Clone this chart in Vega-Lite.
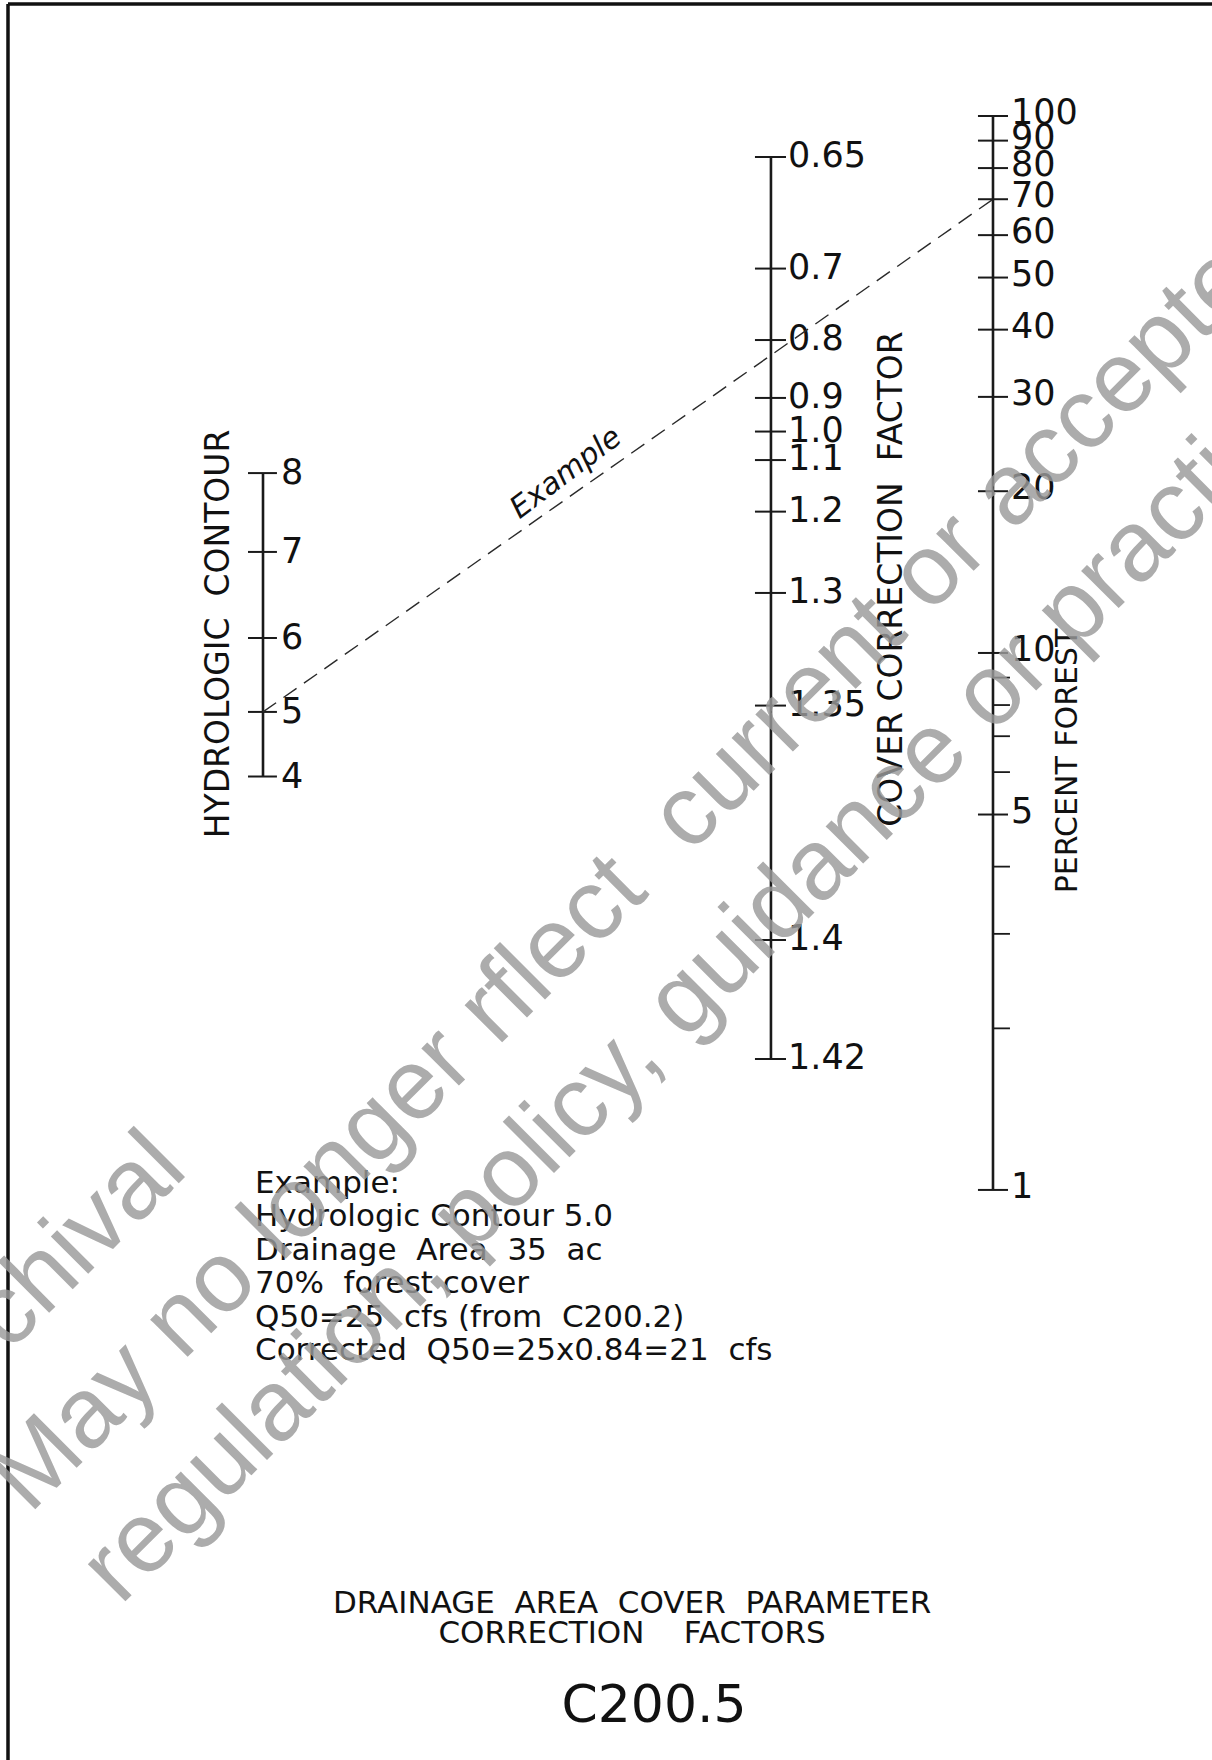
{
  "$schema": "https://vega.github.io/schema/vega-lite/v6.json",
  "width": 1212,
  "height": 1760,
  "autosize": {"type": "none"},
  "padding": 0,
  "background": "white",
  "config": {"view": {"stroke": null}, "text": {"font": "DejaVu Sans", "color": "#111111"}},
  "datasets": {
    "grads": [
      {"scale": "hydro", "value": 8, "label": "8", "pos": 26.88, "kind": "major"},
      {"scale": "hydro", "value": 7, "label": "7", "pos": 31.36, "kind": "major"},
      {"scale": "hydro", "value": 6, "label": "6", "pos": 36.25, "kind": "major"},
      {"scale": "hydro", "value": 5, "label": "5", "pos": 40.45, "kind": "major"},
      {"scale": "hydro", "value": 4, "label": "4", "pos": 44.12, "kind": "major"},
      {"scale": "cover", "value": 0.65, "label": "0.65", "pos": 8.92, "kind": "major"},
      {"scale": "cover", "value": 0.7, "label": "0.7", "pos": 15.26, "kind": "major"},
      {"scale": "cover", "value": 0.8, "label": "0.8", "pos": 19.32, "kind": "major"},
      {"scale": "cover", "value": 0.9, "label": "0.9", "pos": 22.61, "kind": "major"},
      {"scale": "cover", "value": 1.0, "label": "1.0", "pos": 24.52, "kind": "major"},
      {"scale": "cover", "value": 1.1, "label": "1.1", "pos": 26.14, "kind": "major"},
      {"scale": "cover", "value": 1.2, "label": "1.2", "pos": 29.07, "kind": "major"},
      {"scale": "cover", "value": 1.3, "label": "1.3", "pos": 33.69, "kind": "major"},
      {"scale": "cover", "value": 1.35, "label": "1.35", "pos": 40.09, "kind": "major"},
      {"scale": "cover", "value": 1.4, "label": "1.4", "pos": 53.41, "kind": "major"},
      {"scale": "cover", "value": 1.42, "label": "1.42", "pos": 60.17, "kind": "major"},
      {"scale": "percent", "value": 100, "label": "100", "pos": 6.59, "kind": "major"},
      {"scale": "percent", "value": 90, "label": "90", "pos": 7.99, "kind": "major"},
      {"scale": "percent", "value": 80, "label": "80", "pos": 9.55, "kind": "major"},
      {"scale": "percent", "value": 70, "label": "70", "pos": 11.32, "kind": "major"},
      {"scale": "percent", "value": 60, "label": "60", "pos": 13.36, "kind": "major"},
      {"scale": "percent", "value": 50, "label": "50", "pos": 15.77, "kind": "major"},
      {"scale": "percent", "value": 40, "label": "40", "pos": 18.73, "kind": "major"},
      {"scale": "percent", "value": 30, "label": "30", "pos": 22.55, "kind": "major"},
      {"scale": "percent", "value": 20, "label": "20", "pos": 27.91, "kind": "major"},
      {"scale": "percent", "value": 10, "label": "10", "pos": 37.10, "kind": "major"},
      {"scale": "percent", "value": 9, "label": "", "pos": 38.50, "kind": "minor"},
      {"scale": "percent", "value": 8, "label": "", "pos": 40.06, "kind": "minor"},
      {"scale": "percent", "value": 7, "label": "", "pos": 41.83, "kind": "minor"},
      {"scale": "percent", "value": 6, "label": "", "pos": 43.87, "kind": "minor"},
      {"scale": "percent", "value": 5, "label": "5", "pos": 46.28, "kind": "major"},
      {"scale": "percent", "value": 4, "label": "", "pos": 49.24, "kind": "minor"},
      {"scale": "percent", "value": 3, "label": "", "pos": 53.06, "kind": "minor"},
      {"scale": "percent", "value": 2, "label": "", "pos": 58.43, "kind": "minor"},
      {"scale": "percent", "value": 1, "label": "1", "pos": 67.61, "kind": "major"}
    ]
  },
  "layer": [
    {
      "data": {"values": [{}]},
      "layer": [
        {
          "mark": {"type": "rule", "strokeWidth": 3.5, "color": "#111111"},
          "encoding": {
            "x": {"datum": 0.66, "type": "quantitative", "scale": {"domain": [0, 100], "nice": false, "zero": false}, "axis": null},
            "y": {"datum": 0.23, "type": "quantitative", "scale": {"domain": [0, 100], "nice": false, "zero": false, "reverse": true}, "axis": null},
            "y2": {"datum": 100}
          }
        },
        {
          "mark": {"type": "rule", "strokeWidth": 3.5, "color": "#111111"},
          "encoding": {
            "x": {"datum": 0.66, "type": "quantitative", "scale": {"domain": [0, 100], "nice": false, "zero": false}, "axis": null},
            "x2": {"datum": 100},
            "y": {"datum": 0.23, "type": "quantitative", "scale": {"domain": [0, 100], "nice": false, "zero": false, "reverse": true}, "axis": null}
          }
        }
      ]
    },
    {
      "data": {"name": "grads"},
      "transform": [{"filter": "datum.scale === 'hydro'"}],
      "layer": [
        {
          "transform": [{"aggregate": [{"op": "min", "field": "pos", "as": "top"}, {"op": "max", "field": "pos", "as": "bottom"}]}],
          "mark": {"type": "rule", "strokeWidth": 2.6, "color": "#1a1a1a"},
          "encoding": {
            "x": {"datum": 21.70, "type": "quantitative", "scale": {"domain": [0, 100], "nice": false, "zero": false}, "axis": null},
            "y": {"field": "top", "type": "quantitative", "scale": {"domain": [0, 100], "nice": false, "zero": false, "reverse": true}, "axis": null},
            "y2": {"field": "bottom"}
          }
        },
        {
          "mark": {"type": "rule", "strokeWidth": 2, "color": "#1a1a1a"},
          "encoding": {
            "x": {"datum": 20.46, "type": "quantitative", "scale": {"domain": [0, 100], "nice": false, "zero": false}, "axis": null},
            "x2": {"datum": 22.85},
            "y": {"field": "pos", "type": "quantitative", "scale": {"domain": [0, 100], "nice": false, "zero": false, "reverse": true}, "axis": null}
          }
        },
        {
          "mark": {"type": "text", "align": "left", "baseline": "middle", "fontSize": 35},
          "encoding": {
            "x": {"datum": 23.18, "type": "quantitative", "scale": {"domain": [0, 100], "nice": false, "zero": false}, "axis": null},
            "y": {"field": "pos", "type": "quantitative", "scale": {"domain": [0, 100], "nice": false, "zero": false, "reverse": true}, "axis": null},
            "text": {"field": "label", "type": "nominal"}
          }
        }
      ]
    },
    {
      "data": {"name": "grads"},
      "transform": [{"filter": "datum.scale === 'cover'"}],
      "layer": [
        {
          "transform": [{"aggregate": [{"op": "min", "field": "pos", "as": "top"}, {"op": "max", "field": "pos", "as": "bottom"}]}],
          "mark": {"type": "rule", "strokeWidth": 2.6, "color": "#1a1a1a"},
          "encoding": {
            "x": {"datum": 63.61, "type": "quantitative", "scale": {"domain": [0, 100], "nice": false, "zero": false}, "axis": null},
            "y": {"field": "top", "type": "quantitative", "scale": {"domain": [0, 100], "nice": false, "zero": false, "reverse": true}, "axis": null},
            "y2": {"field": "bottom"}
          }
        },
        {
          "mark": {"type": "rule", "strokeWidth": 2, "color": "#1a1a1a"},
          "encoding": {
            "x": {"datum": 62.29, "type": "quantitative", "scale": {"domain": [0, 100], "nice": false, "zero": false}, "axis": null},
            "x2": {"datum": 64.85},
            "y": {"field": "pos", "type": "quantitative", "scale": {"domain": [0, 100], "nice": false, "zero": false, "reverse": true}, "axis": null}
          }
        },
        {
          "mark": {"type": "text", "align": "left", "baseline": "middle", "fontSize": 35, "dy": -1},
          "encoding": {
            "x": {"datum": 65.02, "type": "quantitative", "scale": {"domain": [0, 100], "nice": false, "zero": false}, "axis": null},
            "y": {"field": "pos", "type": "quantitative", "scale": {"domain": [0, 100], "nice": false, "zero": false, "reverse": true}, "axis": null},
            "text": {"field": "label", "type": "nominal"}
          }
        }
      ]
    },
    {
      "data": {"name": "grads"},
      "transform": [{"filter": "datum.scale === 'percent'"}],
      "layer": [
        {
          "transform": [{"aggregate": [{"op": "min", "field": "pos", "as": "top"}, {"op": "max", "field": "pos", "as": "bottom"}]}],
          "mark": {"type": "rule", "strokeWidth": 2.6, "color": "#1a1a1a"},
          "encoding": {
            "x": {"datum": 81.93, "type": "quantitative", "scale": {"domain": [0, 100], "nice": false, "zero": false}, "axis": null},
            "y": {"field": "top", "type": "quantitative", "scale": {"domain": [0, 100], "nice": false, "zero": false, "reverse": true}, "axis": null},
            "y2": {"field": "bottom"}
          }
        },
        {
          "transform": [{"filter": "datum.kind === 'major'"}],
          "mark": {"type": "rule", "strokeWidth": 2, "color": "#1a1a1a"},
          "encoding": {
            "x": {"datum": 80.69, "type": "quantitative", "scale": {"domain": [0, 100], "nice": false, "zero": false}, "axis": null},
            "x2": {"datum": 83.17},
            "y": {"field": "pos", "type": "quantitative", "scale": {"domain": [0, 100], "nice": false, "zero": false, "reverse": true}, "axis": null}
          }
        },
        {
          "transform": [{"filter": "datum.kind === 'minor'"}],
          "mark": {"type": "rule", "strokeWidth": 1.8, "color": "#1a1a1a"},
          "encoding": {
            "x": {"datum": 81.93, "type": "quantitative", "scale": {"domain": [0, 100], "nice": false, "zero": false}, "axis": null},
            "x2": {"datum": 83.33},
            "y": {"field": "pos", "type": "quantitative", "scale": {"domain": [0, 100], "nice": false, "zero": false, "reverse": true}, "axis": null}
          }
        },
        {
          "transform": [{"filter": "datum.kind === 'major'"}],
          "mark": {"type": "text", "align": "left", "baseline": "middle", "fontSize": 35, "dy": -3},
          "encoding": {
            "x": {"datum": 83.42, "type": "quantitative", "scale": {"domain": [0, 100], "nice": false, "zero": false}, "axis": null},
            "y": {"field": "pos", "type": "quantitative", "scale": {"domain": [0, 100], "nice": false, "zero": false, "reverse": true}, "axis": null},
            "text": {"field": "label", "type": "nominal"}
          }
        }
      ]
    },
    {
      "data": {"values": [{}]},
      "layer": [
        {
          "mark": {"type": "text", "text": "HYDROLOGIC\u00a0 CONTOUR", "angle": -90, "align": "center", "baseline": "middle", "fontSize": 33},
          "encoding": {
            "x": {"datum": 18.07, "type": "quantitative", "scale": {"domain": [0, 100], "nice": false, "zero": false}, "axis": null},
            "y": {"datum": 36.02, "type": "quantitative", "scale": {"domain": [0, 100], "nice": false, "zero": false, "reverse": true}, "axis": null}
          }
        },
        {
          "mark": {"type": "text", "text": "COVER CORRECTION\u00a0 FACTOR", "angle": -90, "align": "center", "baseline": "middle", "fontSize": 33},
          "encoding": {
            "x": {"datum": 73.60, "type": "quantitative", "scale": {"domain": [0, 100], "nice": false, "zero": false}, "axis": null},
            "y": {"datum": 32.90, "type": "quantitative", "scale": {"domain": [0, 100], "nice": false, "zero": false, "reverse": true}, "axis": null}
          }
        },
        {
          "mark": {"type": "text", "text": "PERCENT FOREST", "angle": -90, "align": "center", "baseline": "middle", "fontSize": 30},
          "encoding": {
            "x": {"datum": 88.12, "type": "quantitative", "scale": {"domain": [0, 100], "nice": false, "zero": false}, "axis": null},
            "y": {"datum": 43.24, "type": "quantitative", "scale": {"domain": [0, 100], "nice": false, "zero": false, "reverse": true}, "axis": null}
          }
        },
        {
          "mark": {"type": "rule", "strokeWidth": 1.4, "color": "#2a2a2a", "strokeDash": [16, 9]},
          "encoding": {
            "x": {"datum": 21.70, "type": "quantitative", "scale": {"domain": [0, 100], "nice": false, "zero": false}, "axis": null},
            "y": {"datum": 40.45, "type": "quantitative", "scale": {"domain": [0, 100], "nice": false, "zero": false, "reverse": true}, "axis": null},
            "x2": {"datum": 81.93},
            "y2": {"datum": 11.32}
          }
        },
        {
          "mark": {"type": "text", "text": "Example", "fontStyle": "italic", "angle": -37, "align": "center", "baseline": "middle", "fontSize": 30},
          "encoding": {
            "x": {"datum": 46.70, "type": "quantitative", "scale": {"domain": [0, 100], "nice": false, "zero": false}, "axis": null},
            "y": {"datum": 26.88, "type": "quantitative", "scale": {"domain": [0, 100], "nice": false, "zero": false, "reverse": true}, "axis": null}
          }
        },
        {
          "mark": {"type": "text", "text": ["Example:", "Hydrologic Contour 5.0", "Drainage\u00a0 Area\u00a0 35\u00a0 ac", "70%\u00a0 forest cover", "Q50=25\u00a0 cfs (from\u00a0 C200.2)", "Corrected\u00a0 Q50=25x0.84=21\u00a0 cfs"], "align": "left", "baseline": "alphabetic", "fontSize": 31, "lineHeight": 33.4},
          "encoding": {
            "x": {"datum": 21.04, "type": "quantitative", "scale": {"domain": [0, 100], "nice": false, "zero": false}, "axis": null},
            "y": {"datum": 67.78, "type": "quantitative", "scale": {"domain": [0, 100], "nice": false, "zero": false, "reverse": true}, "axis": null}
          }
        },
        {
          "mark": {"type": "text", "text": ["DRAINAGE\u00a0 AREA\u00a0 COVER\u00a0 PARAMETER", "CORRECTION\u00a0 \u00a0 FACTORS"], "align": "center", "baseline": "middle", "fontSize": 31, "lineHeight": 30},
          "encoding": {
            "x": {"datum": 52.15, "type": "quantitative", "scale": {"domain": [0, 100], "nice": false, "zero": false}, "axis": null},
            "y": {"datum": 91.14, "type": "quantitative", "scale": {"domain": [0, 100], "nice": false, "zero": false, "reverse": true}, "axis": null}
          }
        },
        {
          "mark": {"type": "text", "text": "C200.5", "align": "center", "baseline": "middle", "fontSize": 52},
          "encoding": {
            "x": {"datum": 53.96, "type": "quantitative", "scale": {"domain": [0, 100], "nice": false, "zero": false}, "axis": null},
            "y": {"datum": 96.93, "type": "quantitative", "scale": {"domain": [0, 100], "nice": false, "zero": false, "reverse": true}, "axis": null}
          }
        },
        {
          "mark": {"type": "text", "text": ["Archival", "May no longer rflect\u00a0 current or accepted", "regulation, policy, guidance or practice"], "font": "Liberation Sans", "fontSize": 100, "lineHeight": 129, "angle": -45, "align": "left", "baseline": "alphabetic", "color": "#9a9a9a", "opacity": 0.82},
          "encoding": {
            "x": {"datum": -5.1, "type": "quantitative", "scale": {"domain": [0, 100], "nice": false, "zero": false}, "axis": null},
            "y": {"datum": 80.9, "type": "quantitative", "scale": {"domain": [0, 100], "nice": false, "zero": false, "reverse": true}, "axis": null}
          }
        }
      ]
    }
  ]
}
